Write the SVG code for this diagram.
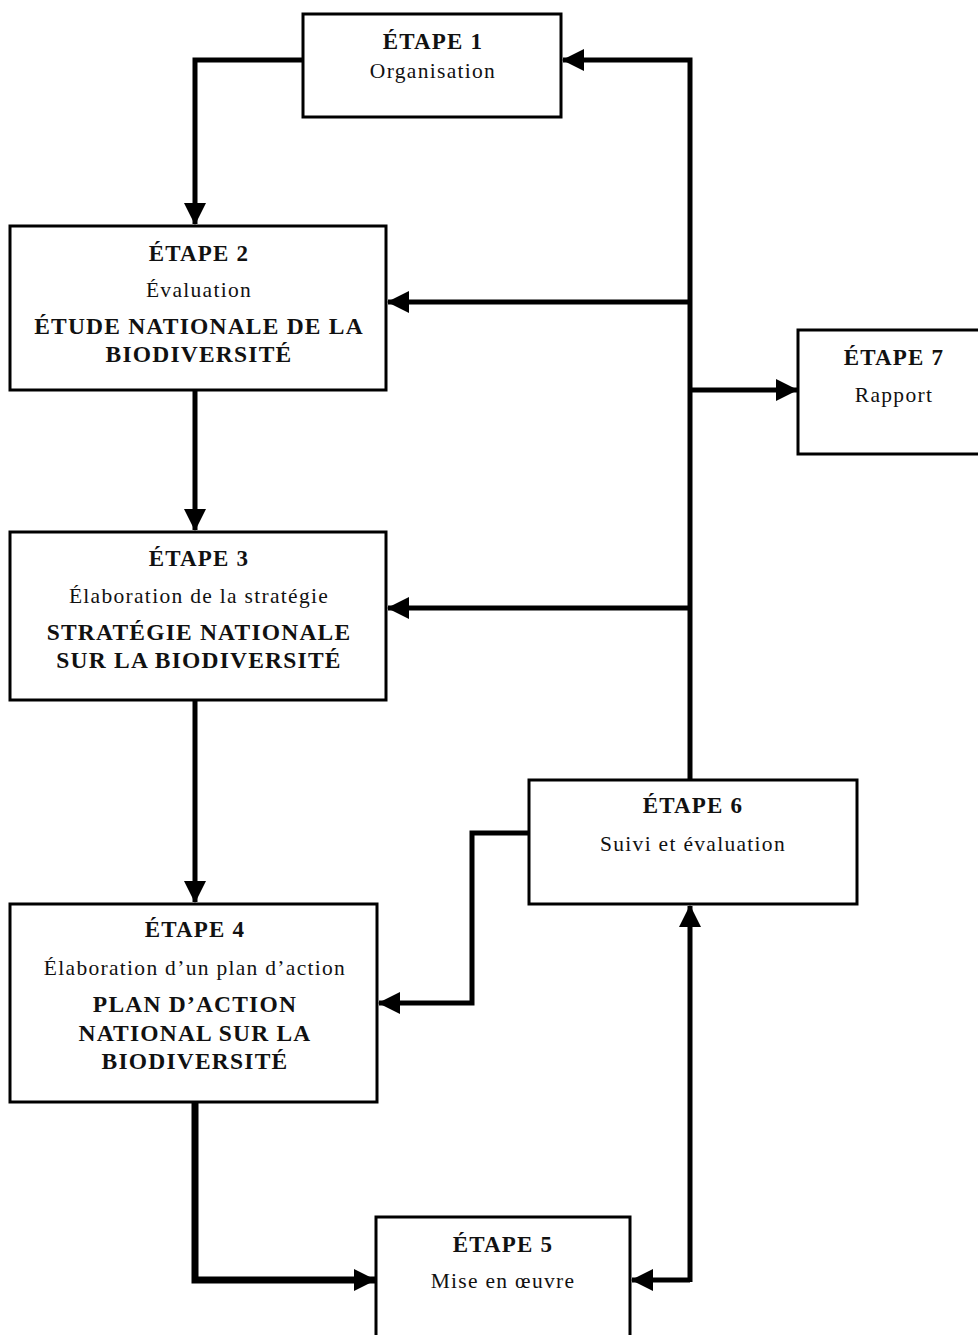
<svg xmlns="http://www.w3.org/2000/svg" width="978" height="1335" viewBox="0 0 978 1335">
<style>
.box{fill:#fff;stroke:#000;stroke-width:3}
.t{font-family:"Liberation Serif","Times New Roman",serif;fill:#111;text-anchor:middle}
.h{font-size:23px;font-weight:bold;letter-spacing:1.2px}
.s{font-size:21.5px;letter-spacing:1.3px}
.c{font-size:23.5px;font-weight:bold;letter-spacing:1.2px}
.ln{fill:none;stroke:#000;stroke-width:5;stroke-linejoin:miter}
</style>
<defs>
<marker id="ah" markerUnits="userSpaceOnUse" markerWidth="22" markerHeight="22" viewBox="0 0 22 22" refX="21" refY="11" orient="auto">
<path d="M0,0 L22,11 L0,22 Z" fill="#000"/>
</marker>
</defs>
<rect width="978" height="1335" fill="#fff"/>
<g id="connectors">
<path class="ln" d="M303,60 H195 V224" marker-end="url(#ah)"/>
<path class="ln" d="M690,780 V60 H563" marker-end="url(#ah)"/>
<path class="ln" d="M690,302 H388" marker-end="url(#ah)"/>
<path class="ln" d="M690,608 H388" marker-end="url(#ah)"/>
<path class="ln" d="M690,390 H797" marker-end="url(#ah)"/>
<path class="ln" d="M195,391 V530" marker-end="url(#ah)"/>
<path class="ln" d="M195,701 V902" marker-end="url(#ah)"/>
<path class="ln" d="M529,833 H472 V1003 H379" marker-end="url(#ah)"/>
<path class="ln" d="M195,1103 V1280 H375" marker-end="url(#ah)" style="stroke-width:7"/>
<path class="ln" d="M690,1280 H632" marker-end="url(#ah)"/>
<path class="ln" d="M690,1282 V906" marker-end="url(#ah)"/>
</g>
<g id="n1"><rect class="box" x="303" y="14" width="258" height="103"/>
<text class="t h" x="433" y="49">ÉTAPE 1</text>
<text class="t s" x="433" y="78">Organisation</text></g>
<g id="n2"><rect class="box" x="10" y="226" width="376" height="164"/>
<text class="t h" x="199" y="261">ÉTAPE 2</text>
<text class="t s" x="199" y="297">Évaluation</text>
<text class="t c" x="199" y="334">ÉTUDE NATIONALE DE LA</text>
<text class="t c" x="199" y="362">BIODIVERSITÉ</text></g>
<g id="n3"><rect class="box" x="10" y="532" width="376" height="168"/>
<text class="t h" x="199" y="566">ÉTAPE 3</text>
<text class="t s" x="199" y="603">Élaboration de la stratégie</text>
<text class="t c" x="199" y="640">STRATÉGIE NATIONALE</text>
<text class="t c" x="199" y="668">SUR LA BIODIVERSITÉ</text></g>
<g id="n4"><rect class="box" x="10" y="904" width="367" height="198"/>
<text class="t h" x="195" y="937">ÉTAPE 4</text>
<text class="t s" x="195" y="975">Élaboration d’un plan d’action</text>
<text class="t c" x="195" y="1012">PLAN D’ACTION</text>
<text class="t c" x="195" y="1041">NATIONAL SUR LA</text>
<text class="t c" x="195" y="1069">BIODIVERSITÉ</text></g>
<g id="n5"><rect class="box" x="376" y="1217" width="254" height="130"/>
<text class="t h" x="503" y="1252">ÉTAPE 5</text>
<text class="t s" x="503" y="1288">Mise en œuvre</text></g>
<g id="n6"><rect class="box" x="529" y="780" width="328" height="124"/>
<text class="t h" x="693" y="813">ÉTAPE 6</text>
<text class="t s" x="693" y="851">Suivi et évaluation</text></g>
<g id="n7"><rect class="box" x="798" y="330" width="190" height="124"/>
<text class="t h" x="894" y="365">ÉTAPE 7</text>
<text class="t s" x="894" y="402">Rapport</text></g>
</svg>
